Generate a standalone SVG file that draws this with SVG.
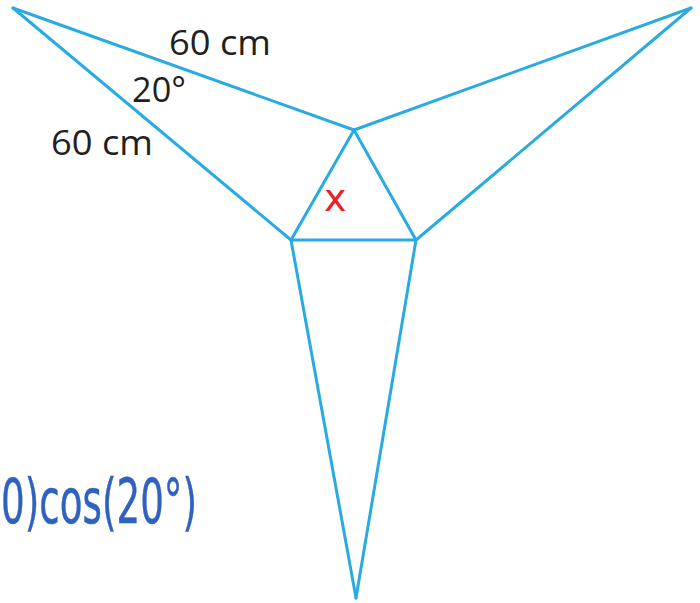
<svg xmlns="http://www.w3.org/2000/svg" width="700" height="603" viewBox="0 0 700 603">
<style>
.edge{fill:none;stroke:#29abe2;stroke-width:3;stroke-linejoin:round;stroke-linecap:round}
.lbl{font-family:"Open Sans","Noto Sans",sans-serif;font-size:34px;fill:#231f20}
.hand{font-family:"DejaVu Sans",sans-serif;fill:#2f62c0;stroke:#2f62c0;stroke-width:0.5}
</style>
<rect width="700" height="603" fill="#ffffff"/>
<g id="connectors">
<line class="edge" x1="13" y1="8" x2="354" y2="130"/>
<line class="edge" x1="13" y1="8" x2="291" y2="240"/>
<line class="edge" x1="691" y1="8" x2="354" y2="130"/>
<line class="edge" x1="691" y1="8" x2="416" y2="240"/>
<line class="edge" x1="356" y1="598" x2="291" y2="240"/>
<line class="edge" x1="356" y1="598" x2="416" y2="240"/>
</g>
<g id="inner-triangle">
<polygon class="edge" points="354,130 291,240 416,240"/>
</g>
<g id="labels">
<text class="lbl" x="169" y="55" textLength="102" lengthAdjust="spacingAndGlyphs">60 cm</text>
<text class="lbl" x="132" y="102" textLength="54" lengthAdjust="spacingAndGlyphs">20°</text>
<text class="lbl" x="51" y="155" textLength="102" lengthAdjust="spacingAndGlyphs">60 cm</text>
</g>
<g id="annotation-x">
<text x="324" y="211" font-family="DejaVu Sans, sans-serif" font-size="38" fill="#e8202a">x</text>
</g>
<g id="annotation-formula">
<text class="hand" x="1" y="523" font-size="62" textLength="196" lengthAdjust="spacingAndGlyphs">0)cos(20°)</text>
</g>
</svg>
